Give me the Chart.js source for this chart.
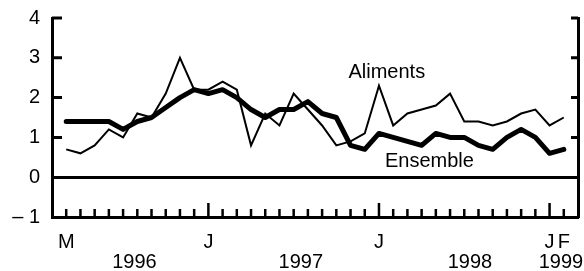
<!DOCTYPE html>
<html>
<head>
<meta charset="utf-8">
<script src="https://cdn.jsdelivr.net/npm/chart.js@4/dist/chart.umd.min.js"></script>
<style>
  body { margin: 0; background: #fff; }
  #wrap { width: 584px; height: 271px; }
</style>
</head>
<body>
<div id="wrap"><canvas id="prix"></canvas></div>
<script>
// mois de mars 1996 (0) a fevrier 1999 (35)
const aliments = [0.7, 0.6, 0.8, 1.2, 1.0, 1.6, 1.5, 2.1, 3.0, 2.2, 2.2, 2.4,
                  2.2, 0.8, 1.6, 1.3, 2.1, 1.7, 1.3, 0.8, 0.9, 1.1, 2.3, 1.3,
                  1.6, 1.7, 1.8, 2.1, 1.4, 1.4, 1.3, 1.4, 1.6, 1.7, 1.3, 1.5];
const ensemble = [1.4, 1.4, 1.4, 1.4, 1.2, 1.4, 1.5, 1.75, 2.0, 2.2, 2.1, 2.2,
                  2.0, 1.7, 1.5, 1.7, 1.7, 1.9, 1.6, 1.5, 0.8, 0.7, 1.1, 1.0,
                  0.9, 0.8, 1.1, 1.0, 1.0, 0.8, 0.7, 1.0, 1.2, 1.0, 0.6, 0.7];

const xTickVals = [0, 4.8, 10, 16.5, 22, 28.4, 34, 34.8, 35];
const xTickLabels = ['M', ['', '1996'], 'J', ['', '1997'], 'J', ['', '1998'], 'J', ['', '1999'], 'F'];
const majorMonths = [10, 22, 34];
const yTicks = [1, 2, 3, 4];

const noteText = ['Aliments', 'Ensemble'];
const noteX = [22.55, 25.55];
const noteY = [2.64, 0.4];

Chart.defaults.font.family = '"Liberation Sans", Arial, sans-serif';
Chart.defaults.color = '#000';

// petits traits vers l'interieur + etiquettes des courbes
const inwardTicks = {
    id: 'inwardTicks',
    afterDraw(chart) {
        const { ctx, chartArea: a, scales: { x, y } } = chart;
        ctx.save();
        ctx.strokeStyle = '#000';
        ctx.lineWidth = 3;
        yTicks.forEach(v => {
            const py = y.getPixelForValue(v);
            ctx.beginPath();
            ctx.moveTo(a.left, py); ctx.lineTo(a.left + 10, py);
            ctx.moveTo(a.right - 7, py); ctx.lineTo(a.right, py);
            ctx.stroke();
        });
        ctx.lineWidth = 2.5;
        for (let i = 0; i < aliments.length; i++) {
            const px = x.getPixelForValue(i);
            const len = majorMonths.includes(i) ? 14 : 8;
            ctx.beginPath();
            ctx.moveTo(px, a.bottom); ctx.lineTo(px, a.bottom - len);
            ctx.stroke();
        }
        ctx.fillStyle = '#000';
        ctx.font = '20px "Liberation Sans", Arial, sans-serif';
        ctx.textAlign = 'center';
        ctx.textBaseline = 'middle';
        noteText.forEach((t, i) => {
            ctx.fillText(t, x.getPixelForValue(noteX[i]), y.getPixelForValue(noteY[i]));
        });
        ctx.restore();
    }
};

new Chart(document.getElementById('prix'), {
    type: 'line',
    data: {
        datasets: [{
            label: 'Ensemble',
            data: ensemble.map((v, i) => ({ x: i, y: v })),
            borderColor: '#000',
            borderWidth: 5,
            borderCapStyle: 'round',
            borderJoinStyle: 'round',
            pointRadius: 0,
            tension: 0
        }, {
            label: 'Aliments',
            data: aliments.map((v, i) => ({ x: i, y: v })),
            borderColor: '#000',
            borderWidth: 2,
            borderJoinStyle: 'miter',
            pointRadius: 0,
            tension: 0
        }]
    },
    options: {
        responsive: true,
        maintainAspectRatio: false,
        animation: false,
        layout: { padding: { top: 18, left: 0, right: 0, bottom: 0 } },
        plugins: { legend: { display: false }, tooltip: { enabled: false } },
        scales: {
            x: {
                type: 'linear',
                position: 'bottom',
                min: -1,
                max: 36,
                grid: { display: false, drawTicks: false },
                border: { display: true, width: 3, color: '#000' },
                afterBuildTicks: s => { s.ticks = xTickVals.map(v => ({ value: v })); },
                ticks: {
                    autoSkip: false,
                    maxRotation: 0,
                    padding: 15,
                    font: { size: 20, lineHeight: 1.0 },
                    callback: (v, i) => xTickLabels[i]
                },
                afterFit: s => { s.height = 54; s.paddingLeft = 0; s.paddingRight = 0; }
            },
            y: {
                position: 'left',
                min: -1,
                max: 4,
                grid: {
                    drawTicks: false,
                    lineWidth: 3,
                    color: c => (c.tick && c.tick.value === 0) ? '#000' : 'rgba(0,0,0,0)'
                },
                border: { width: 3, color: '#000' },
                ticks: {
                    stepSize: 1,
                    padding: 12,
                    font: { size: 20 },
                    callback: v => v < 0 ? '\u2013 ' + Math.abs(v) : String(v)
                },
                afterFit: s => { s.width = 52; s.paddingTop = 0; s.paddingBottom = 0; }
            },
            y2: {
                position: 'right',
                min: -1,
                max: 4,
                grid: { display: false, drawTicks: false },
                border: { width: 3, color: '#000' },
                ticks: { display: false },
                afterFit: s => { s.width = 6; s.paddingTop = 0; s.paddingBottom = 0; }
            }
        }
    },
    plugins: [inwardTicks]
});
</script>
</body>
</html>
